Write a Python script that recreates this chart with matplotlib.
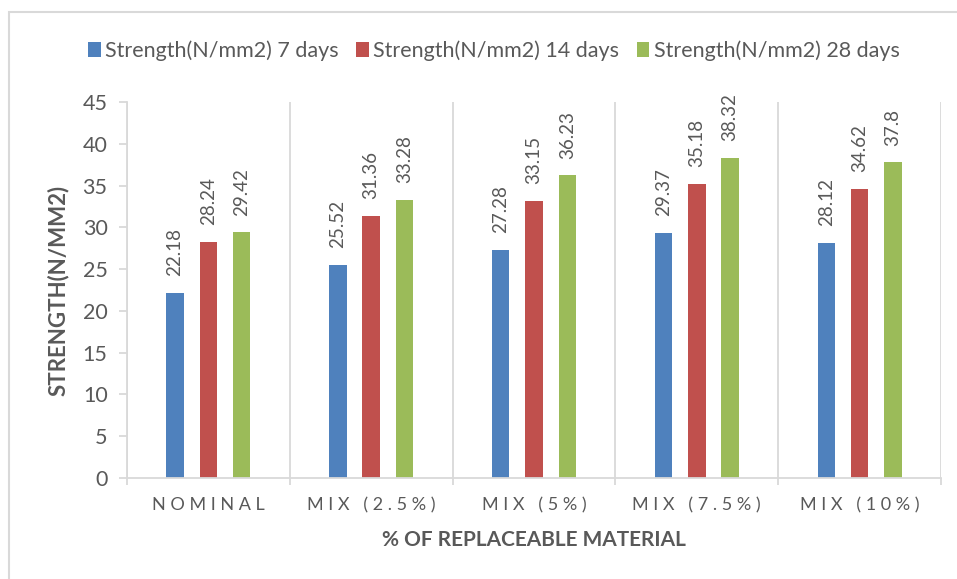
import matplotlib.pyplot as plt
import matplotlib.patches as mpatches
import numpy as np

categories = ['NOMINAL', 'MIX (2.5%)', 'MIX (5%)', 'MIX (7.5%)', 'MIX (10%)']
series_names = ['Strength(N/mm2) 7 days', 'Strength(N/mm2) 14 days', 'Strength(N/mm2) 28 days']
days_7 = [22.18, 25.52, 27.28, 29.37, 28.12]
days_14 = [28.24, 31.36, 33.15, 35.18, 34.62]
days_28 = [29.42, 33.28, 36.23, 38.32, 37.8]
colors = ['#4F81BD', '#C0504D', '#9BBB59']

plt.rcParams['font.family'] = ['Lato', 'DejaVu Sans']
text_gray = '#595959'
line_gray = '#D9D9D9'

fig = plt.figure(figsize=(9.57, 5.79), dpi=100)
ax = fig.add_axes([0.1327, 0.1744, 0.8506, 0.6494])

# outer chart border (right/bottom run off the picture)
fig.patches.append(mpatches.Rectangle((9 / 957, -0.1), 1.2, 1 - 12 / 579 + 0.1,
                                      transform=fig.transFigure, fill=False,
                                      edgecolor=line_gray, linewidth=1.5))

x = np.arange(len(categories))
width = 0.107
offsets = [-0.205, 0, 0.205]
for vals, name, col, off in zip([days_7, days_14, days_28], series_names, colors, offsets):
    bars = ax.bar(x + off, vals, width, color=col, label=name)
    for b, v in zip(bars, vals):
        ax.annotate(f'{v:g}', (b.get_x() + b.get_width() / 2, v), xytext=(0, 12),
                    textcoords='offset points', rotation=90, ha='center', va='bottom',
                    fontsize=13.5, color=text_gray)

ax.set_xlim(-0.5, 4.5)
ax.set_ylim(0, 45)
ax.set_yticks(range(0, 46, 5))

# category separators
bounds = np.arange(-0.5, 5, 1)
for bx in bounds:
    ax.axvline(bx, color=line_gray, linewidth=1.3, zorder=0)
ax.set_xticks(bounds, minor=True)
ax.set_xticks(x)
ax.set_xticklabels([' '.join(c) for c in categories], fontsize=13, color=text_gray)
ax.tick_params(axis='x', which='major', length=0, pad=14)
ax.tick_params(axis='x', which='minor', length=5, color=line_gray, width=1.3)
ax.tick_params(axis='y', length=6, color=line_gray, width=1.3, labelsize=15.5,
               labelcolor=text_gray, pad=8)

for s in ['top', 'right']:
    ax.spines[s].set_visible(False)
for s in ['left', 'bottom']:
    ax.spines[s].set_color(line_gray)
    ax.spines[s].set_linewidth(1.3)

ax.set_ylabel('STRENGTH(N/MM2)', fontsize=16, fontweight='bold', color=text_gray, labelpad=10)
ax.set_xlabel('% OF REPLACEABLE MATERIAL', fontsize=15, fontweight='bold', color=text_gray, labelpad=12)

fig.legend(loc='center', bbox_to_anchor=(0.516, 0.912), ncol=3, frameon=False,
           fontsize=15.5, handlelength=0.6, handleheight=0.7, handletextpad=0.2,
           columnspacing=0.8, labelcolor=text_gray)

fig.savefig('out.png', dpi=100)
